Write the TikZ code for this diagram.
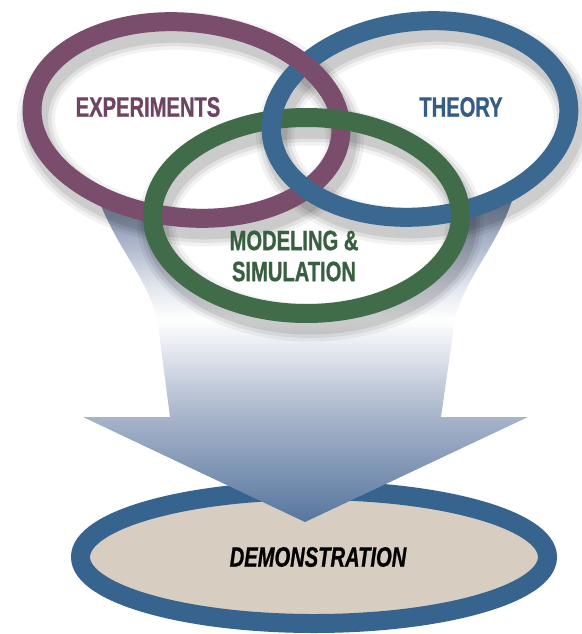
\documentclass[tikz,border=0pt]{standalone}
\usepackage{fontspec}
\newfontfamily\lblfont[FakeStretch=0.72, BoldFeatures={FakeBold=0.8}, BoldItalicFeatures={FakeBold=0.8}]{Liberation Sans}
\usepackage{xcolor}
\usepackage{tikz}
\usetikzlibrary{calc}

\definecolor{exppurple}{RGB}{123,77,108}
\definecolor{thyblue}{RGB}{59,104,145}
\definecolor{modgreen}{RGB}{64,108,74}
\definecolor{exptext}{RGB}{110,68,98}
\definecolor{thytext}{RGB}{52,92,132}
\definecolor{modtext}{RGB}{56,96,64}
\definecolor{demoblue}{RGB}{55,100,142}
\definecolor{demofill}{RGB}{215,206,193}
\definecolor{arrowtop}{RGB}{112,128,162}
\definecolor{arrowpale}{RGB}{226,230,238}
\definecolor{arrowmid}{RGB}{172,184,205}
\definecolor{arrowtip}{RGB}{86,118,158}
\pgfdeclareverticalshading{funnelshade}{100bp}{color(0bp)=(arrowtip); color(25bp)=(arrowtip);
  color(42bp)=(arrowmid); color(51bp)=(arrowpale); color(56bp)=(white); color(61bp)=(arrowpale);
  color(75bp)=(arrowtop); color(100bp)=(arrowtop)}

\begin{document}
\begin{tikzpicture}[x=1pt,y=-1pt,
  ring/.style={line width=19pt},
  lbl/.style={font=\lblfont\bfseries\fontsize{28}{31}\selectfont, inner sep=0pt}]
  \useasboundingbox (0,0) rectangle (581,634);
  \coordinate (expc) at (186.5,120);
  \coordinate (thyc) at (420,119);
  \coordinate (modc) at (306.5,215.5);
  \coordinate (democ) at (314,557);
  % 底部椭圆
  \draw[ring, draw=demoblue, fill=demofill] (democ) ellipse [x radius=233.5, y radius=66.5];
  % 漏斗形箭头, 上端压在三个环下面
  \shade[shading=funnelshade] (97,195) -- (514,195) .. controls (495,255) and (455,285) .. (452,340)
    -- (441,417) -- (528,417) -- (305,522) -- (83,417) -- (170,417) -- (160,340)
    .. controls (157,285) and (118,255) .. cycle;
  % 环内留白
  \fill[white, rotate around={-6:(expc)}] (expc) ellipse [x radius=155, y radius=97.5];
  \fill[white, rotate around={6:(thyc)}] (thyc) ellipse [x radius=149.3, y radius=97.6];
  \fill[white] (modc) ellipse [x radius=154, y radius=98];
  % 阴影
  \begin{scope}[transform canvas={shift={(4,9)}}]
    \foreach \w/\op in {38/.05,31/.07,24/.09} {
      \draw[line width=\w, black, opacity=\op, rotate around={-6:(expc)}] (expc) ellipse [x radius=155, y radius=97.5];
      \draw[line width=\w, black, opacity=\op, rotate around={6:(thyc)}] (thyc) ellipse [x radius=149.3, y radius=97.6];
      \draw[line width=\w, black, opacity=\op] (modc) ellipse [x radius=154, y radius=98];
    }
  \end{scope}
  % 三个环, 交叉处用 clip 补画
  \draw[ring, exppurple, rotate around={-6:(expc)}] (expc) ellipse [x radius=155, y radius=97.5];
  \draw[ring, thyblue, rotate around={6:(thyc)}] (thyc) ellipse [x radius=149.3, y radius=97.6];
  \begin{scope}
    \clip (270,15) rectangle (345,95);
    \draw[ring, exppurple, rotate around={-6:(expc)}] (expc) ellipse [x radius=155, y radius=97.5];
  \end{scope}
  \draw[ring, modgreen] (modc) ellipse [x radius=154, y radius=98];
  \begin{scope}
    \clip (240,95) rectangle (300,150);
    \draw[ring, thyblue, rotate around={6:(thyc)}] (thyc) ellipse [x radius=149.3, y radius=97.6];
  \end{scope}
  % 文字
  \node[lbl, text=exptext] (exp) at (148,107) {EXPERIMENTS};
  \node[lbl, text=thytext] (thy) at (461,107) {THEORY};
  \node[lbl, text=modtext, align=center] (mod) at (294,256) {MODELING \&\\SIMULATION};
  \node[lbl, font=\lblfont\bfseries\itshape\fontsize{28}{31}\selectfont] (demo) at (318,557) {DEMONSTRATION};
\end{tikzpicture}
\end{document}
